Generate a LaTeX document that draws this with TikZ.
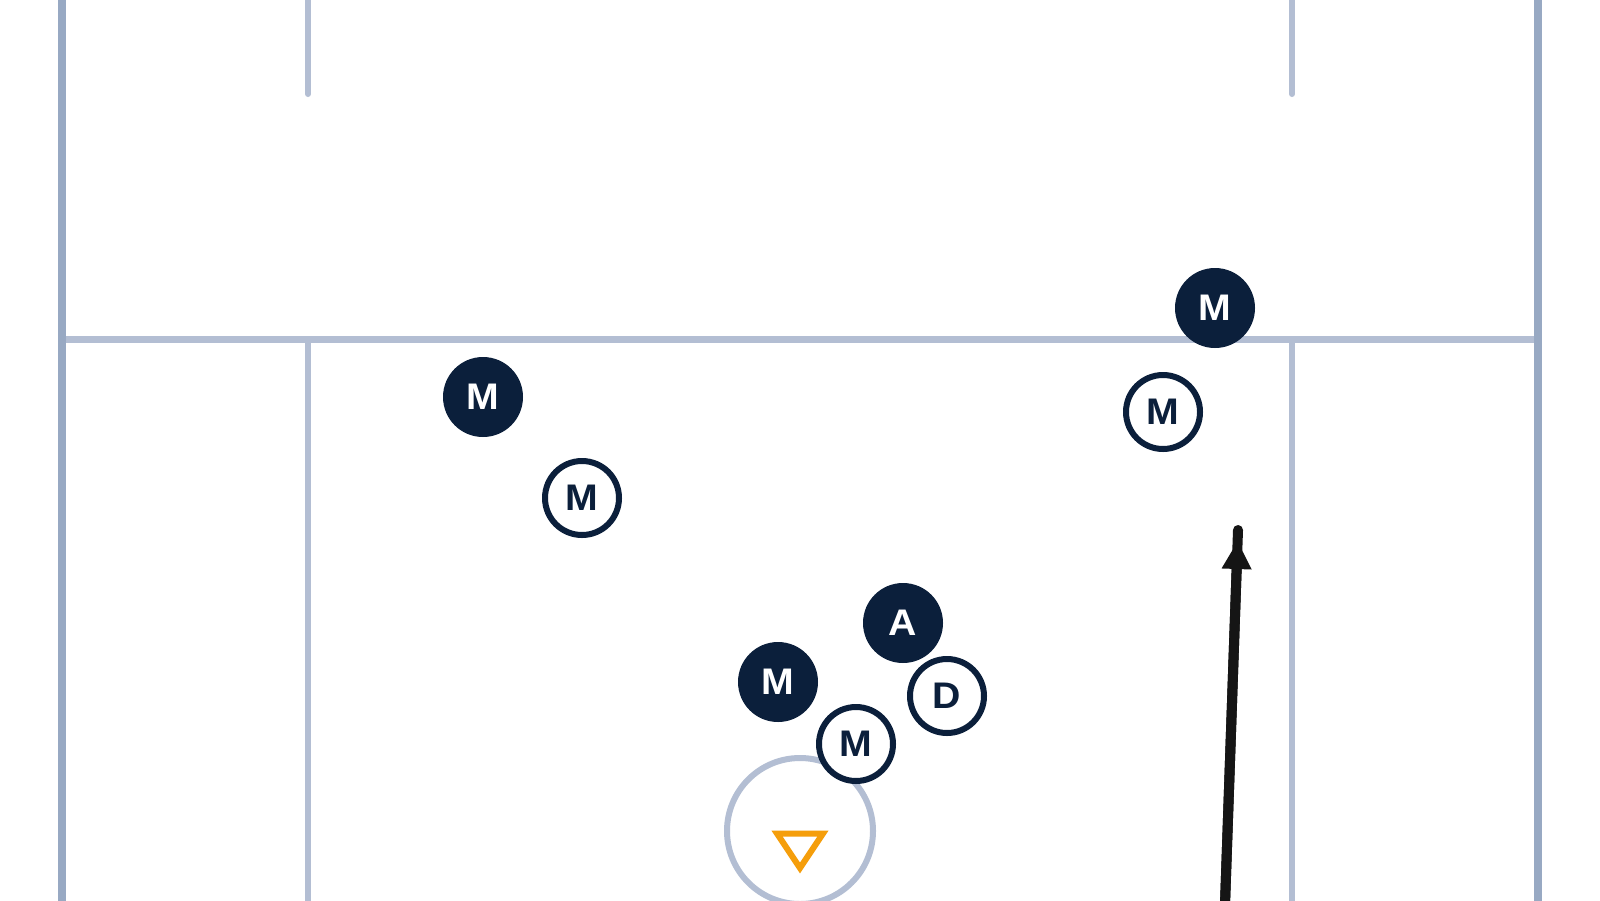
\documentclass[tikz,border=0pt]{standalone}
\usepackage{fontspec}
\setmainfont{Liberation Sans}
\newfontfamily\playerfont{Liberation Sans Bold}[FakeStretch=1.06]
\usetikzlibrary{arrows.meta,calc}
\definecolor{navy}{HTML}{0B1F3B}
\definecolor{sideline}{HTML}{98A9C3}
\definecolor{fieldline}{HTML}{B3BED3}
\definecolor{cone}{HTML}{F59E0B}
\definecolor{ink}{HTML}{151515}
\tikzset{
  px/.style={x=1pt,y=-1pt},
  side/.style={draw=sideline,line width=8pt},
  fline/.style={draw=fieldline,line width=6pt,line cap=round},
  hline/.style={draw=fieldline,line width=7pt},
  txt/.style={font=\playerfont\fontsize{37}{37}\selectfont},
  filled/.style={circle,fill=navy,text=white,minimum size=80pt,inner sep=0pt,txt},
  open/.style={circle,draw=navy,fill=white,line width=6pt,text=navy,minimum size=74pt,inner sep=0pt,txt},
  goalc/.style={circle,draw=fieldline,line width=6pt,minimum size=146pt,inner sep=0pt},
  run/.style={draw=ink,line width=10pt,line cap=round},
}
\begin{document}
\begin{tikzpicture}[px]
\useasboundingbox (0,0) rectangle (1600,900);
\fill[white] (0,0) rectangle (1600,900);
% field lines
\draw[fline] (308,0) -- (308,94);
\draw[fline] (1292,0) -- (1292,94);
\draw[fline,line cap=butt] (308,339) -- (308,905);
\draw[fline,line cap=butt] (1292,339) -- (1292,905);
\draw[hline] (62,339) -- (1538,339);
\draw[side] (62,-5) -- (62,905);
\draw[side] (1538,-5) -- (1538,905);
% goal circle and cone
\node[goalc] (goal) at (800,831) {};
\draw[draw=cone,line width=6pt,line join=miter]
  ($(goal)+(-23,2.5)$) -- ($(goal)+(23,2.5)$) -- ($(goal)+(0,37)$) -- cycle;
% players
\node[filled] (m1) at (483,397) {M};
\node[open]   (m2) at (582,498) {M};
\node[filled] (m3) at (1215,308) {M};
\node[open]   (m4) at (1163,412) {M};
\node[filled] (a1) at (903,623) {A};
\node[filled] (m5) at (778,682) {M};
\node[open]   (d1) at (947,696) {D};
\node[open]   (m6) at (856,744) {M};
% run arrow
\coordinate (rs) at (1224.8,910);
\coordinate (re) at (1238,530);
\coordinate (rh) at (1237.6,541);
\draw[run] (rs) -- (re);
\draw[draw=ink,line width=10pt,-{Triangle[length=28pt,width=28pt]}] (rs) -- (rh);
\end{tikzpicture}
\end{document}
